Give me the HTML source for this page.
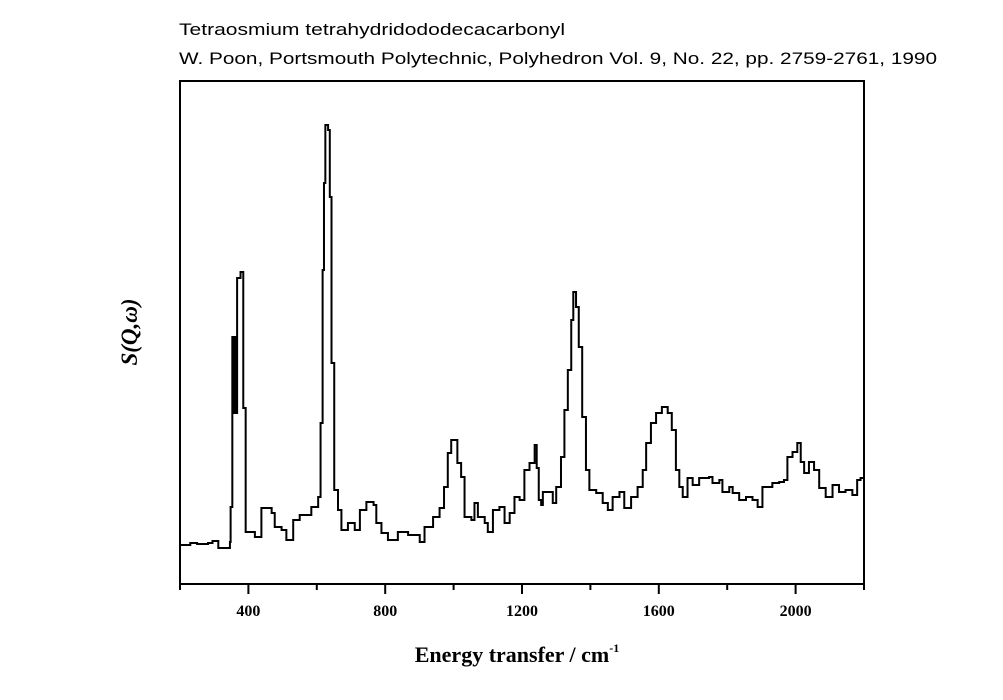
<!DOCTYPE html>
<html><head><meta charset="utf-8"><style>
html,body{margin:0;padding:0;background:#fff;}
svg{display:block;}
</style></head><body>
<svg id="chart" width="1003" height="700" viewBox="0 0 1003 700">
<text x="179" y="35" font-family="Liberation Sans, sans-serif" font-size="17" textLength="386" lengthAdjust="spacingAndGlyphs">Tetraosmium tetrahydridododecacarbonyl</text>
<text x="179" y="64" font-family="Liberation Sans, sans-serif" font-size="17" textLength="758" lengthAdjust="spacingAndGlyphs">W. Poon, Portsmouth Polytechnic, Polyhedron Vol. 9, No. 22, pp. 2759-2761, 1990</text>
<g id="ticks"></g>
<path id="series" fill="none" stroke="#000" stroke-width="2"></path>
<rect x="180" y="81" width="684" height="503" fill="none" stroke="#000" stroke-width="2"></rect>
<text transform="translate(137,332) rotate(-90)" text-anchor="middle" font-family="Liberation Serif, serif" font-size="23" font-weight="bold" font-style="italic">S(Q,ω)</text>
<text x="517" y="662" text-anchor="middle" font-family="Liberation Serif, serif" font-size="22" font-weight="bold">Energy transfer / cm<tspan dy="-10" font-size="12">-1</tspan></text>
</svg>
<script>
const energies=[200,230,250,282,295,312,346,348,353,357,361,365,367,377,385,392,419,438,468,477,497,511,531,550,584,604,611,617,621,625,633,638,643,651,662,672,691,711,726,745,766,774,789,808,837,867,901,915,940,959,972,983,993,1003,1011,1022,1032,1052,1061,1071,1091,1100,1115,1134,1149,1164,1178,1193,1207,1222,1237,1243,1249,1256,1261,1285,1290,1300,1314,1324,1334,1344,1350,1358,1366,1376,1387,1397,1417,1436,1451,1465,1485,1499,1519,1538,1553,1563,1577,1592,1609,1626,1638,1650,1660,1670,1684,1699,1718,1747,1757,1777,1786,1806,1816,1835,1855,1874,1889,1903,1932,1952,1966,1976,1991,2005,2015,2025,2039,2054,2069,2088,2108,2127,2146,2166,2180,2190];
const intensities=[39,41,40,41,43,36,42,77,247,171,247,171,306,312,176,52,47,76,71,57,54,44,64,69,77,87,161,314,401,459,454,387,221,94,74,54,61,54,74,82,79,61,51,44,52,49,42,57,67,76,97,131,144,144,121,107,67,64,81,67,61,52,74,77,61,71,87,84,114,121,139,116,84,79,92,92,81,97,127,174,214,264,292,277,237,167,114,94,91,81,74,87,92,76,87,97,114,141,161,171,177,171,154,114,97,87,106,99,106,107,101,104,92,97,91,84,87,84,77,97,101,102,104,127,132,141,122,111,122,114,96,87,99,92,94,89,104,106];
const xTicks=[400,800,1200,1600,2000];
const xMinorTicks=[200,600,1000,1400,1800,2200];
const xMin=200,xMax=2200,yMin=0,yMax=503;
const L=180,R=864,T=81,B=584;
function sx(v){return L+(v-xMin)/(xMax-xMin)*(R-L);}
function sy(v){return B-(v-yMin)/(yMax-yMin)*(B-T);}
const NS="http://www.w3.org/2000/svg";
let d="M"+sx(energies[0])+","+sy(intensities[0]);
for(let i=1;i<energies.length;i++){
  d+=" H"+sx(energies[i])+" V"+sy(intensities[i]);
}
d+=" H"+sx(xMax);
document.getElementById('series').setAttribute('d',d);
const g=document.getElementById('ticks');
xTicks.forEach(t=>{
  const ln=document.createElementNS(NS,'line');
  ln.setAttribute('x1',sx(t));ln.setAttribute('x2',sx(t));
  ln.setAttribute('y1',B);ln.setAttribute('y2',B+10);
  ln.setAttribute('stroke','#000');ln.setAttribute('stroke-width','2');
  
  
  g.appendChild(ln);
  const tx=document.createElementNS(NS,'text');
  tx.setAttribute('x',sx(t));tx.setAttribute('y',616);
  tx.setAttribute('text-anchor','middle');
  tx.setAttribute('font-family','Liberation Serif, serif');
  tx.setAttribute('font-size','16');tx.setAttribute('font-weight','bold');
  tx.textContent=t;
  
  
  g.appendChild(tx);
});
xMinorTicks.forEach(t=>{
  const ln=document.createElementNS(NS,'line');
  ln.setAttribute('x1',sx(t));ln.setAttribute('x2',sx(t));
  ln.setAttribute('y1',B);ln.setAttribute('y2',B+6);
  ln.setAttribute('stroke','#000');ln.setAttribute('stroke-width','2');
  
  
  g.appendChild(ln);
});
</script>
</body></html>
